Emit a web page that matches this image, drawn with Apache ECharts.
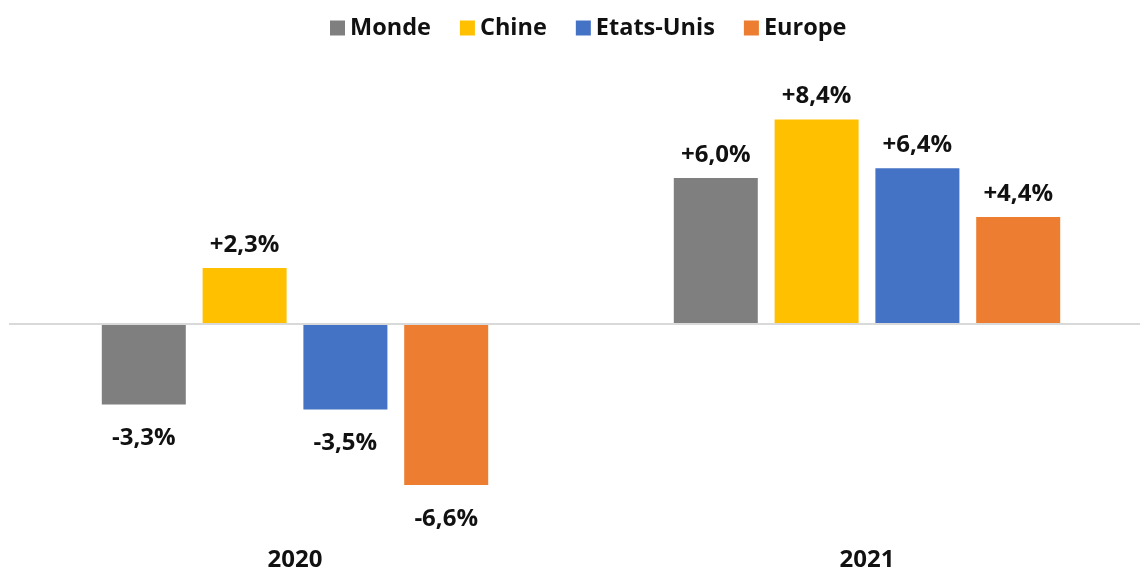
<!DOCTYPE html>
<html>
<head>
<meta charset="utf-8">
<script src="https://cdn.jsdelivr.net/npm/echarts@6/dist/echarts.min.js"></script>
<style>
  html, body { margin: 0; padding: 0; background: #fff; overflow: hidden; }
  #chart { width: 1160px; height: 572px; }
</style>
</head>
<body>
<div id="chart"></div>
<script>
const categories = ['2020', '2021'];
const seriesNames = ['Monde', 'Chine', 'Etats-Unis', 'Europe'];
const monde = [-3.3, 6.0];
const chine = [2.3, 8.4];
const etatsUnis = [-3.5, 6.4];
const europe = [-6.6, 4.4];
const colors = ['#7F7F7F', '#FFC000', '#4472C4', '#ED7D31'];

const FONT = '"Open Sans", "Noto Sans", sans-serif';

function fmt(v) {
  return (v > 0 ? '+' : '') + v.toFixed(1).replace('.', ',') + '%';
}

function makeData(values) {
  return values.map(v => ({
    value: v,
    label: v < 0 ? { position: 'bottom', distance: 22 } : { position: 'top', distance: 11 }
  }));
}

const allValues = [monde, chine, etatsUnis, europe];

const series = allValues.map((vals, i) => {
  const s = {
    name: seriesNames[i],
    type: 'bar',
    barWidth: 84,
    barGap: '20%',
    itemStyle: { color: colors[i] },
    data: makeData(vals),
    label: {
      show: true,
      color: '#111',
      fontFamily: FONT,
      fontWeight: 'bold',
      fontSize: 24,
      formatter: p => fmt(p.value)
    }
  };
  if (i === 0) {
    s.markLine = {
      silent: true,
      symbol: 'none',
      label: { show: false },
      lineStyle: { color: '#D9D9D9', width: 2, type: 'solid' },
      data: [{ yAxis: 0 }]
    };
  }
  return s;
});

const chart = echarts.init(document.getElementById('chart'));
chart.setOption({
  animation: false,
  backgroundColor: '#fff',
  legend: {
    top: 11,
    left: 325,
    itemWidth: 15,
    itemHeight: 15,
    itemGap: 29,
    icon: 'rect',
    textStyle: {
      fontFamily: FONT,
      fontWeight: 'bold',
      fontSize: 23.5,
      color: '#111'
    },
    data: seriesNames
  },
  grid: { left: 9, width: 1144, top: 80.5, height: 442.8, containLabel: false },
  xAxis: {
    type: 'category',
    data: categories,
    axisLine: { show: false, onZero: false },
    axisTick: { show: false },
    axisLabel: {
      margin: 29,
      color: '#111',
      fontFamily: FONT,
      fontWeight: 'bold',
      fontSize: 24
    }
  },
  yAxis: {
    type: 'value',
    min: -8,
    max: 10,
    show: false,
    splitLine: { show: false }
  },
  series: series
});
</script>
</body>
</html>
